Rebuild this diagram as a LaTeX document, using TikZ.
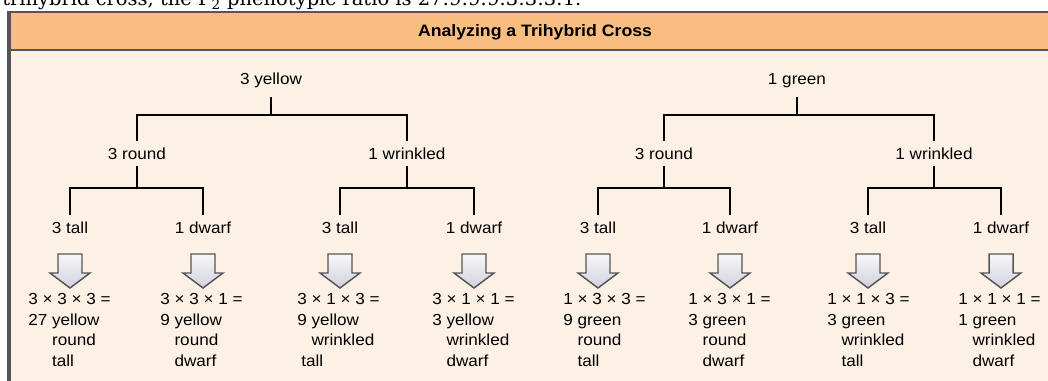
\documentclass[tikz,border=0pt]{standalone}
\usepackage{fontspec}
\setmainfont{Liberation Sans}[FakeStretch=1.07]
\newfontfamily\seriffont{DejaVu Serif}
\usetikzlibrary{calc}
\definecolor{hdr}{RGB}{248,189,127}
\definecolor{cream}{RGB}{252,241,228}
\definecolor{bord}{RGB}{85,85,85}
\definecolor{arrtop}{RGB}{247,247,250}
\definecolor{arrbot}{RGB}{210,210,224}
\begin{document}
\begin{tikzpicture}[x=0.75pt,y=-0.75pt,
  lbl/.style={font=\fontsize{12}{14}\selectfont, inner xsep=1pt, inner ysep=0pt,
              text height=8.6pt, text depth=0pt, anchor=base},
  toplbl/.style={lbl, outer ysep=9pt},
  midlbl/.style={lbl, outer ysep=5pt},
  leaflbl/.style={lbl, outer ysep=5pt},
  link/.style={line width=2pt, black, line join=miter},
  res/.style={font=\fontsize{12}{15.4}\selectfont, inner sep=0pt, anchor=base west},
  fat/.style={draw=bord, line width=1.1pt, top color=arrtop, bottom color=arrbot, line join=miter},
  border/.style={draw=bord, line width=2pt},
]
\path[use as bounding box] (0,0) rectangle (1048,381);
\clip (0,0) rectangle (1048,381);
\fill[white] (0,0) rectangle (1048,381);
% clipped caption line above the figure
\node[font=\seriffont\fontsize{14.6}{16}\selectfont, inner sep=0pt, anchor=base west] (cap) at (2,6)
  {trihybrid cross, the F\textsubscript{2} phenotypic ratio is 27:9:9:9:3:3:3:1.};
% panel
\fill[cream] (9,12) rectangle (1052,384);
\fill[hdr] (9,12) rectangle (1052,50);
\draw[border] (9,12) -- (1052,12);
\draw[border] (9,50) -- (1052,50);
\draw[border, line width=2.4pt] (9,11) -- (9,384);
\node[font=\bfseries\fontsize{12.4}{14}\selectfont, anchor=base, inner sep=0pt] (title) at (535,37) {Analyzing a Trihybrid Cross};
% tree labels
\node[toplbl] (Y) at (271,85) {3 yellow};
\node[toplbl] (G) at (797,85) {1 green};
\node[midlbl] (YR) at (137,159) {3 round};
\node[midlbl] (YW) at (407,159) {1 wrinkled};
\node[midlbl] (GR) at (664,159) {3 round};
\node[midlbl] (GW) at (934,159) {1 wrinkled};
\node[leaflbl] (L1) at (70,233) {3 tall};
\node[leaflbl] (L2) at (203,233) {1 dwarf};
\node[leaflbl] (L3) at (340,233) {3 tall};
\node[leaflbl] (L4) at (474,233) {1 dwarf};
\node[leaflbl] (L5) at (598,233) {3 tall};
\node[leaflbl] (L6) at (730,233) {1 dwarf};
\node[leaflbl] (L7) at (868,233) {3 tall};
\node[leaflbl] (L8) at (1001,233) {1 dwarf};
\coordinate (barT) at (0,115);
\coordinate (barM) at (0,188);
% connectors
\draw[link] (Y.south) -- (Y.south |- barT);
\draw[link] (YR.north) |- (YW.north |- barT) -- (YW.north);
\draw[link] (G.south) -- (G.south |- barT);
\draw[link] (GR.north) |- (GW.north |- barT) -- (GW.north);
\foreach \p/\a/\b in {YR/L1/L2, YW/L3/L4, GR/L5/L6, GW/L7/L8}{
  \draw[link] (\p.south) -- (\p.south |- barM);
  \draw[link] (\a.north) |- (\b.north |- barM) -- (\b.north);
}
% block arrows
\foreach \cx in {70,203,340,474,598,730,868,1001}{
  \draw[fat] (\cx-12,254) -- (\cx+12,254) -- (\cx+12,273) -- (\cx+20,273) -- (\cx,288)
    -- (\cx-20,273) -- (\cx-12,273) -- cycle;
}
% results
\newcommand{\resblock}[4]{\begin{tabular}[t]{@{}l@{}}#1\\#2\\#3\\#4\end{tabular}}
\node[res] (R1) at (28,304.5) {\resblock{3 × 3 × 3 =}{27 yellow}{\phantom{27 }round}{\phantom{27 }tall}};
\node[res] (R2) at (160,304.5) {\resblock{3 × 3 × 1 =}{9 yellow}{\phantom{9 }round}{\phantom{9 }dwarf}};
\node[res] (R3) at (297,304.5) {\resblock{3 × 1 × 3 =}{9 yellow}{\phantom{9 }wrinkled}{\hspace{3pt}tall}};
\node[res] (R4) at (432,304.5) {\resblock{3 × 1 × 1 =}{3 yellow}{\phantom{3 }wrinkled}{\phantom{3 }dwarf}};
\node[res] (R5) at (563,304.5) {\resblock{1 × 3 × 3 =}{9 green}{\phantom{9 }round}{\phantom{9 }tall}};
\node[res] (R6) at (688,304.5) {\resblock{1 × 3 × 1 =}{3 green}{\phantom{3 }round}{\phantom{3 }dwarf}};
\node[res] (R7) at (827,304.5) {\resblock{1 × 1 × 3 =}{3 green}{\phantom{3 }wrinkled}{\phantom{3 }tall}};
\node[res] (R8) at (958,304.5) {\resblock{1 × 1 × 1 =}{1 green}{\phantom{1 }wrinkled}{\phantom{1 }dwarf}};
\end{tikzpicture}
\end{document}
